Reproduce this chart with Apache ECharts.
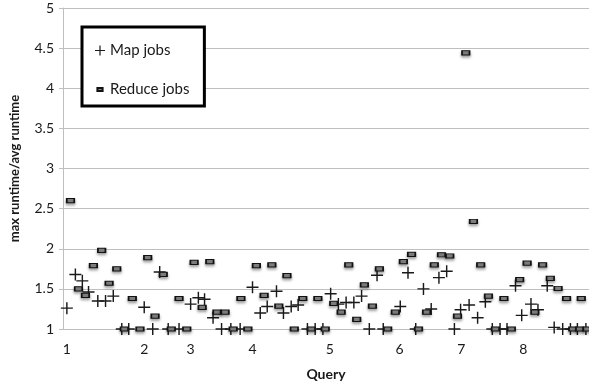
<!DOCTYPE html>
<html>
<head>
<meta charset="utf-8">
<script src="https://cdn.jsdelivr.net/npm/echarts@6/dist/echarts.min.js"></script>
<style>
  html, body { margin: 0; padding: 0; background: #fff; }
  #chart { width: 589px; height: 388px; }
</style>
</head>
<body>
<div id="chart"></div>
<script>
// Job slots along the x axis (one slot per MapReduce job, 68 in view)
const slotCount = 68;
// Query number shown under the first job slot of each query
const queryNames = ['1', '2', '3', '4', '5', '6', '7', '8'];
const queryStartSlot = [0, 10, 16, 24, 34, 43, 51, 59];
// Y axis ticks
const yTicks = [1, 1.5, 2, 2.5, 3, 3.5, 4, 4.5, 5];

// [job position, max runtime / avg runtime] for map phases
const mapJobs = [
  [0.5, 1.26], [1.6, 1.68], [2.5, 1.60], [3.3, 1.46], [4.5, 1.35], [5.5, 1.35],
  [6.5, 1.41], [7.6, 1.0], [8.5, 1.0], [10.5, 1.27], [11.6, 1.0], [12.5, 1.71],
  [13.6, 1.0], [15.0, 1.0], [16.5, 1.31], [17.5, 1.39], [18.3, 1.37], [19.4, 1.14],
  [20.5, 1.0], [21.7, 1.0], [22.9, 1.0], [24.5, 1.52], [25.5, 1.20], [26.4, 1.28],
  [27.6, 1.47], [28.5, 1.20], [29.5, 1.28], [30.4, 1.30], [31.6, 1.0], [32.6, 1.0],
  [33.6, 1.0], [34.6, 1.44], [35.6, 1.31], [36.6, 1.33], [37.6, 1.33], [38.6, 1.41],
  [39.6, 1.0], [40.6, 1.67], [41.4, 1.0], [43.6, 1.28], [44.6, 1.70], [45.6, 1.0],
  [46.6, 1.50], [47.6, 1.25], [48.6, 1.64], [49.6, 1.72], [50.6, 1.0], [51.4, 1.24],
  [52.5, 1.30], [53.6, 1.14], [54.6, 1.34], [55.5, 1.0], [56.5, 1.0], [57.4, 1.0],
  [58.5, 1.54], [59.3, 1.17], [60.5, 1.31], [61.4, 1.24], [62.6, 1.54], [63.5, 1.02],
  [64.6, 1.0], [65.6, 1.0], [66.5, 1.0], [67.6, 1.0]
];

// [job position, max runtime / avg runtime] for reduce phases
const reduceJobs = [
  [0.97, 2.60], [2.0, 1.50], [2.9, 1.42], [3.93, 1.79], [5.0, 1.98], [5.96, 1.57],
  [6.95, 1.75], [7.93, 1.0], [8.96, 1.38], [9.95, 1.0], [10.95, 1.89], [11.9, 1.16],
  [12.96, 1.68], [14.0, 1.0], [15.0, 1.38], [16.0, 1.0], [16.95, 1.83], [17.99, 1.27],
  [18.98, 1.84], [19.9, 1.21], [20.95, 1.21], [22.0, 1.0], [23.0, 1.38], [23.9, 1.0],
  [25.0, 1.79], [26.0, 1.42], [27.0, 1.80], [27.9, 1.285], [28.95, 1.665], [29.9, 1.0],
  [31.0, 1.38], [32.1, 1.0], [32.95, 1.38], [33.9, 1.0], [35.0, 1.32], [35.96, 1.21],
  [36.94, 1.80], [37.97, 1.12], [38.96, 1.55], [40.0, 1.285], [40.9, 1.75], [41.97, 1.0],
  [42.96, 1.21], [44.0, 1.84], [45.06, 1.93], [45.96, 1.0], [47.0, 1.21], [48.0, 1.80],
  [48.93, 1.925], [50.0, 1.91], [51.0, 1.16], [52.07, 4.44], [53.06, 2.34], [54.0, 1.80],
  [55.0, 1.41], [55.9, 1.0], [57.0, 1.38], [57.96, 1.0], [59.04, 1.615], [60.0, 1.82],
  [61.0, 1.21], [62.0, 1.80], [63.0, 1.63], [64.0, 1.505], [65.1, 1.38], [65.9, 1.0],
  [66.8, 1.0], [67.0, 1.38], [67.75, 1.0]
];

// Category labels: query number at its first job, blank elsewhere
const slotLabels = [];
for (let i = 0; i < slotCount; i++) {
  const q = queryStartSlot.indexOf(i);
  slotLabels.push(q >= 0 ? queryNames[q] : '');
}

const FONT = 'Lato, "Open Sans", sans-serif';
const GRID_COLOR = '#bfbfbf';
const PLUS = 'path://M0,4.4h10v1.2h-10z M4.4,0h1.2v10h-1.2z';
// small bar inside a 10x10 box so the legend icon keeps its proportions
const DASH_ICON = 'path://M0,0 M10,10 M2.4,3.6h5.2v2.8h-5.2z';

const chart = echarts.init(document.getElementById('chart'), null, { renderer: 'canvas', devicePixelRatio: 1 });

chart.setOption({
  animation: false,
  backgroundColor: '#ffffff',
  textStyle: { fontFamily: FONT },
  grid: { left: 62, right: 0, top: 8, bottom: 59, containLabel: false },
  xAxis: [
    {
      type: 'value', min: 0, max: slotCount, show: false
    },
    {
      type: 'category', data: slotLabels, boundaryGap: true, position: 'bottom',
      axisLine: { show: true, lineStyle: { color: GRID_COLOR, width: 1 } },
      axisTick: { show: false },
      axisLabel: { interval: 0, margin: 13, fontSize: 14, color: '#1a1a1a', fontFamily: FONT },
      name: 'Query', nameLocation: 'middle', nameGap: 38,
      nameTextStyle: { fontSize: 14, fontWeight: 'bold', color: '#1a1a1a', fontFamily: FONT }
    }
  ],
  yAxis: {
    type: 'value', min: yTicks[0], max: yTicks[yTicks.length - 1], interval: 0.5,
    axisLine: { show: true, lineStyle: { color: GRID_COLOR, width: 1 } },
    axisTick: { show: true, length: 4, lineStyle: { color: GRID_COLOR } },
    splitLine: { show: true, lineStyle: { color: GRID_COLOR, width: 1 } },
    axisLabel: { fontSize: 14, color: '#1a1a1a', margin: 9, fontFamily: FONT },
    name: 'max runtime/avg runtime', nameLocation: 'middle', nameGap: 42, nameRotate: 90,
    nameTextStyle: { fontSize: 13, fontWeight: 'bold', color: '#1a1a1a', fontFamily: FONT }
  },
  legend: {
    orient: 'vertical', left: 82, top: 27,
    padding: [16, 15, 9, 12],
    itemGap: 24, itemWidth: 10, itemHeight: 14,
    borderColor: '#000', borderWidth: 3, backgroundColor: '#fff',
    textStyle: { fontSize: 15, color: '#1a1a1a', fontFamily: FONT },
    data: [
      { name: 'Map jobs', icon: PLUS },
      { name: 'Reduce jobs', icon: DASH_ICON }
    ]
  },
  series: [
    {
      name: 'Map jobs', type: 'scatter', xAxisIndex: 0, clip: false,
      data: mapJobs, symbol: PLUS, symbolSize: 12,
      itemStyle: { color: '#1a1a1a', opacity: 1 }
    },
    {
      name: 'Reduce jobs', type: 'scatter', xAxisIndex: 0, clip: false,
      data: reduceJobs, symbol: 'rect', symbolSize: [7.5, 4.2],
      itemStyle: {
        color: '#8a8a8a', borderColor: '#111', borderWidth: 1.3, opacity: 1,
        shadowBlur: 3, shadowColor: 'rgba(0,0,0,0.35)', shadowOffsetY: 2
      }
    }
  ]
});
</script>
</body>
</html>
